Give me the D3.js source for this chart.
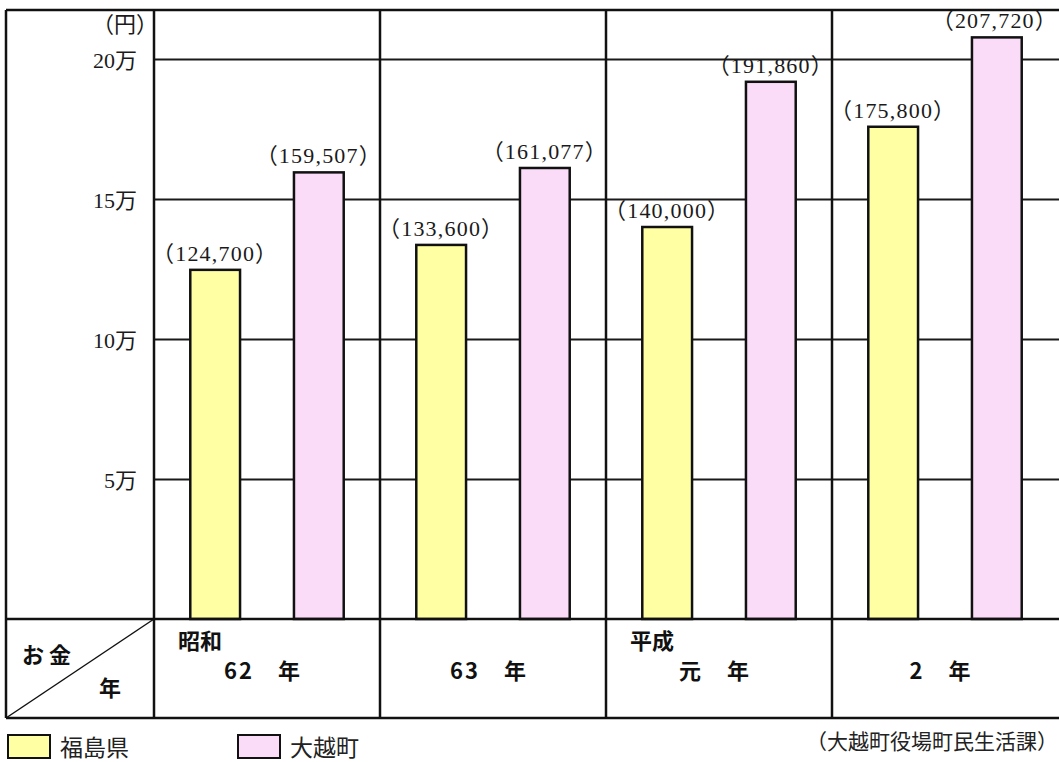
<!DOCTYPE html>
<html>
<head>
<meta charset="utf-8">
<script src="https://cdn.jsdelivr.net/npm/d3@7"></script>
<style>
	body { margin: 0; background: #fff; }
</style>
</head>
<body>
<svg id="bar-chart"></svg>
<script>
// data
const years = ['62', '63', '元', '2'];
const eras = ['昭和', '', '平成', ''];
const fukushima = [124700, 133600, 140000, 175800];
const okoshi = [159507, 161077, 191860, 207720];
const seriesNames = ['福島県', '大越町'];
const yTicks = [50000, 100000, 150000, 200000];

const colors = ['#ffffa3', '#fadcf8'];
const serif = "'Liberation Serif', 'Noto Sans CJK JP', serif";
const sans = "'Noto Sans CJK JP', sans-serif";

function drawChart() {
	const width = 1059;
	const height = 762;
	const frameLeft = 6;
	const frameTop = 10;
	const plotLeft = 154;
	const plotRight = 1058;
	const baseY = 619;
	const tableBottom = 718;

	const svg = d3
		.select('#bar-chart')
		.attr('width', width)
		.attr('height', height)
		.attr('viewBox', [0, 0, width, height]);

	svg.selectAll('*').remove();
	svg.append('rect').attr('width', width).attr('height', height).attr('fill', '#fff');

	const data = years.map((d, i) => ({
		year: d,
		era: eras[i],
		values: [fukushima[i], okoshi[i]],
	}));

	const x0 = d3.scaleBand().domain(years).range([plotLeft, plotRight]);
	const x1 = d3
		.scaleBand()
		.domain(seriesNames)
		.range([0, x0.bandwidth()])
		.paddingInner(0.52)
		.paddingOuter(0.35);
	const y = d3.scaleLinear().domain([0, 200000]).range([baseY, 59]);

	// grid lines + y labels
	svg
		.append('g')
		.attr('transform', `translate(${plotLeft},0)`)
		.call(
			d3
				.axisLeft(y)
				.tickValues(yTicks)
				.tickSize(-(plotRight - plotLeft + 4))
				.tickPadding(17)
				.tickFormat((d) => d / 10000 + '万')
		)
		.call((g) => g.select('.domain').remove())
		.call((g) => g.selectAll('.tick line').attr('stroke', '#1a1a1a').attr('stroke-width', 2))
		.call((g) =>
			g
				.selectAll('.tick text')
				.attr('fill', '#1a1a1a')
				.attr('dy', '0.38em')
				.style('font-family', serif)
				.style('font-size', '22px')
		);

	svg
		.append('text')
		.attr('x', 158)
		.attr('y', 32)
		.attr('text-anchor', 'end')
		.attr('fill', '#1a1a1a')
		.style('font-family', serif)
		.style('font-size', '22px')
		.text('（円）');

	// bars
	const groups = svg
		.append('g')
		.selectAll('g')
		.data(data)
		.join('g')
		.attr('transform', (d) => `translate(${x0(d.year)},0)`);

	groups
		.selectAll('rect')
		.data((d) => d.values.map((v, i) => ({ key: seriesNames[i], value: v, i })))
		.join('rect')
		.attr('x', (d) => x1(d.key))
		.attr('y', (d) => y(d.value))
		.attr('width', x1.bandwidth())
		.attr('height', (d) => baseY - y(d.value))
		.attr('fill', (d) => colors[d.i])
		.attr('stroke', '#111')
		.attr('stroke-width', 2.5);

	// value labels, kept inside the picture
	groups
		.selectAll('text.value')
		.data((d) =>
			d.values.map((v, i) => ({ key: seriesNames[i], value: v, x: x0(d.year) }))
		)
		.join('text')
		.attr('class', 'value')
		.attr('y', (d) => y(d.value) - 9)
		.attr('text-anchor', 'middle')
		.attr('fill', '#1a1a1a')
		.style('font-family', serif)
		.style('font-size', '22px')
		.style('letter-spacing', '1.2px')
		.text((d) => '（' + d3.format(',')(d.value) + '）')
		.attr('x', function (d) {
			const cx = x1(d.key) + x1.bandwidth() / 2;
			const w = this.getComputedTextLength();
			return Math.min(cx, width - 1 - d.x - w / 2);
		});

	// table frame
	const lines = svg
		.append('g')
		.attr('stroke', '#111')
		.attr('stroke-width', 2.5)
		.attr('fill', 'none');
	lines.append('line').attr('x1', frameLeft).attr('x2', width + 5).attr('y1', frameTop).attr('y2', frameTop);
	lines.append('line').attr('x1', frameLeft).attr('x2', width + 5).attr('y1', baseY).attr('y2', baseY);
	lines.append('line').attr('x1', frameLeft).attr('x2', width + 5).attr('y1', tableBottom).attr('y2', tableBottom);
	lines.append('line').attr('x1', frameLeft).attr('x2', frameLeft).attr('y1', frameTop).attr('y2', tableBottom);
	lines.append('line').attr('x1', plotLeft).attr('x2', plotLeft).attr('y1', frameTop).attr('y2', tableBottom);
	lines
		.selectAll('line.div')
		.data(years.slice(1))
		.join('line')
		.attr('class', 'div')
		.attr('x1', (d) => x0(d))
		.attr('x2', (d) => x0(d))
		.attr('y1', frameTop)
		.attr('y2', tableBottom);
	lines
		.append('line')
		.attr('x1', plotLeft)
		.attr('y1', baseY)
		.attr('x2', frameLeft)
		.attr('y2', tableBottom)
		.attr('stroke-width', 1.5);

	// header cell
	const bold = (sel) =>
		sel.attr('fill', '#111').style('font-family', sans).style('font-size', '22px').style('font-weight', 700);
	svg.append('text').attr('x', 22).attr('y', 663).text('お 金').call(bold);
	svg.append('text').attr('x', 99).attr('y', 696).text('年').call(bold);

	// year labels
	const cells = svg
		.append('g')
		.selectAll('g')
		.data(data)
		.join('g')
		.attr('transform', (d) => `translate(${x0(d.year)},0)`);
	cells
		.append('text')
		.attr('x', 24)
		.attr('y', 649)
		.text((d) => d.era)
		.call(bold);
	cells
		.append('text')
		.attr('x', x0.bandwidth() / 2 - 4)
		.attr('y', 679)
		.attr('text-anchor', 'middle')
		.style('letter-spacing', '2px')
		.text((d) => d.year + '　年')
		.call(bold);

	// legend
	const legend = svg
		.append('g')
		.selectAll('g')
		.data(seriesNames)
		.join('g')
		.attr('transform', (d, i) => `translate(${8 + i * 230},735)`);
	legend
		.append('rect')
		.attr('width', 42)
		.attr('height', 23)
		.attr('fill', (d, i) => colors[i])
		.attr('stroke', '#111')
		.attr('stroke-width', 2);
	legend
		.append('text')
		.attr('x', 52)
		.attr('y', 21)
		.attr('fill', '#222')
		.style('font-family', sans)
		.style('font-size', '23px')
		.text((d) => d);

	// source
	svg
		.append('text')
		.attr('x', 1058)
		.attr('y', 749)
		.attr('text-anchor', 'end')
		.attr('fill', '#222')
		.style('font-family', sans)
		.style('font-size', '21px')
		.text('（大越町役場町民生活課）');
}

drawChart();
</script>
</body>
</html>
